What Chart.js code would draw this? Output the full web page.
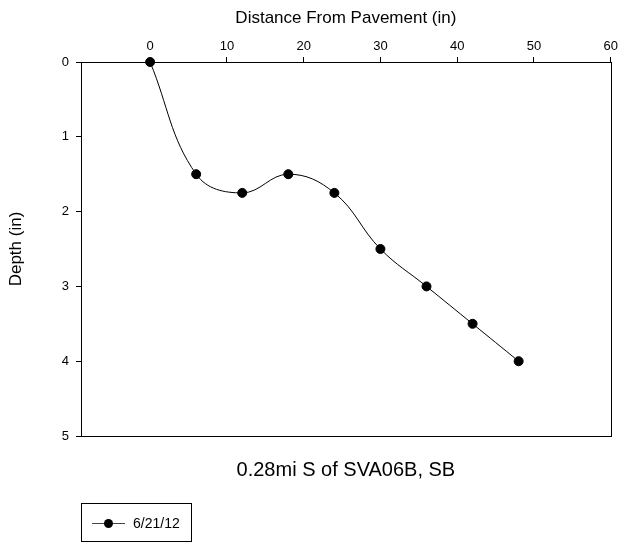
<!DOCTYPE html>
<html>
<head>
<meta charset="utf-8">
<script src="https://cdn.jsdelivr.net/npm/chart.js@4"></script>
<style>
  body { margin: 0; background: #fff; }
  #wrap { position: relative; width: 621px; height: 543px; }
  #legend {
    position: absolute; left: 81px; top: 503px; width: 111px; height: 39px;
    border: 1px solid #000; box-sizing: border-box;
    font: 14px "Liberation Sans", Arial, sans-serif; color: #000;
  }
  #legend .ln { position: absolute; left: 10px; top: 19px; width: 33px; height: 1px; background: #444; }
  #legend .dt { position: absolute; left: 22px; top: 15px; width: 9px; height: 9px; border-radius: 50%; background: #000; }
  #legend .tx { position: absolute; left: 51px; top: 11px; }
</style>
</head>
<body>
<div id="wrap">
  <canvas id="c" width="621" height="543"></canvas>
  <div id="legend"><span class="ln"></span><span class="dt"></span><span class="tx">6/21/12</span></div>
</div>
<script>
// --- data ---
const distance = [0, 6, 12, 18, 24, 30, 36, 42, 48];
const depth = [0, 1.5, 1.75, 1.5, 1.75, 2.5, 3, 3.5, 4];
const xTicks = [0, 10, 20, 30, 40, 50, 60];
const yTicks = [0, 1, 2, 3, 4, 5];
const seriesLabel = '6/21/12';
const chartTitle = '0.28mi S of SVA06B, SB';

const FONT = '"Liberation Sans", Arial, sans-serif';

// frame around the plot area (right + bottom edges)
const frame = {
  id: 'frame',
  afterDraw(chart) {
    const a = chart.chartArea, ctx = chart.ctx;
    ctx.save();
    ctx.strokeStyle = '#000';
    ctx.lineWidth = 1;
    ctx.strokeRect(Math.round(a.left) + 0.5, Math.round(a.top) + 0.5,
      Math.round(a.right - a.left), Math.round(a.bottom - a.top));
    ctx.restore();
  }
};

new Chart(document.getElementById('c'), {
  type: 'scatter',
  data: {
    datasets: [{
      label: seriesLabel,
      data: distance.map((d, i) => ({ x: d, y: depth[i] })),
      showLine: true,
      clip: false,
      borderColor: '#000',
      backgroundColor: '#000',
      borderWidth: 1,
      pointRadius: 4.5,
      pointHoverRadius: 4.5,
      tension: 0.4
    }]
  },
  options: {
    responsive: false,
    animation: false,
    layout: { padding: { left: 0, right: 7, top: 0, bottom: 0 } },
    plugins: {
      legend: { display: false },
      tooltip: { enabled: false }
    },
    scales: {
      x: {
        type: 'linear',
        position: 'top',
        min: -9, max: 60,
        afterBuildTicks: s => { s.ticks = xTicks.map(v => ({ value: v })); },
        afterFit: s => { s.height = 62; },
        grid: { drawOnChartArea: false, tickLength: 5, color: '#000' },
        border: { color: '#000' },
        ticks: { color: '#000', font: { family: FONT, size: 13 }, padding: 3, maxRotation: 0 },
        title: {
          display: true, text: 'Distance From Pavement (in)', color: '#000',
          font: { family: FONT, size: 17 }, padding: { top: 8, bottom: 4 }
        }
      },
      // bottom axis only carries the chart title, centred under the plot
      x2: {
        type: 'linear',
        position: 'bottom',
        min: -9, max: 60,
        afterFit: s => { s.height = 107; },
        grid: { display: false },
        border: { display: false },
        ticks: { display: false },
        title: {
          display: true, text: chartTitle, color: '#000',
          font: { family: FONT, size: 20 }, padding: { top: 4, bottom: 61 }
        }
      },
      y: {
        type: 'linear',
        reverse: true,
        min: 0, max: 5,
        afterBuildTicks: s => { s.ticks = yTicks.map(v => ({ value: v })); },
        afterFit: s => { s.width = 81; },
        grid: { drawOnChartArea: false, tickLength: 5, color: '#000' },
        border: { color: '#000' },
        ticks: { color: '#000', font: { family: FONT, size: 13 }, padding: 7 },
        title: {
          display: true, text: 'Depth (in)', color: '#000',
          font: { family: FONT, size: 17 }, padding: { top: 6, bottom: 4 }
        }
      }
    }
  },
  plugins: [frame]
});
</script>
</body>
</html>
